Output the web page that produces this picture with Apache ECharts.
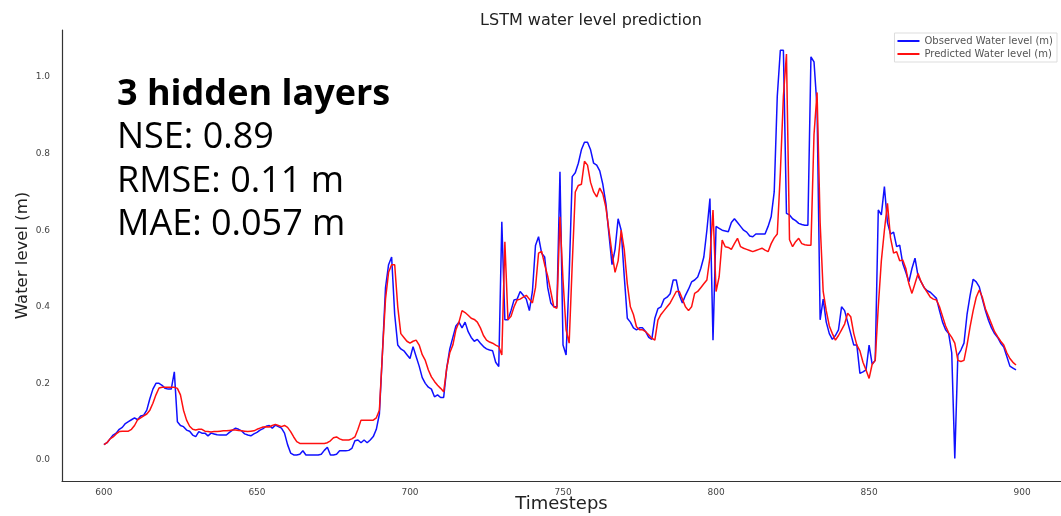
<!DOCTYPE html>
<html>
<head>
<meta charset="utf-8">
<script src="https://cdn.jsdelivr.net/npm/echarts@6/dist/echarts.min.js"></script>
<style>
html,body{margin:0;padding:0;background:#fff;}
#c{width:1061px;height:516px;}
</style>
</head>
<body>
<div id="c"></div>
<script>
const startStep = 600;
const observed = [
0.04,0.045,0.055,0.065,0.07,0.08,0.085,0.095,0.10,0.105,
0.11,0.105,0.115,0.117,0.13,0.16,0.185,0.20,0.20,0.195,
0.187,0.185,0.185,0.23,0.10,0.09,0.087,0.078,0.075,0.065,
0.061,0.074,0.07,0.07,0.063,0.07,0.068,0.066,0.065,0.065,
0.065,0.072,0.078,0.083,0.08,0.076,0.068,0.065,0.063,0.068,
0.072,0.078,0.082,0.088,0.09,0.083,0.091,0.087,0.083,0.07,
0.04,0.018,0.013,0.013,0.015,0.024,0.013,0.013,0.013,0.013,
0.013,0.015,0.025,0.033,0.013,0.013,0.015,0.024,0.024,0.024,
0.025,0.03,0.05,0.052,0.045,0.052,0.045,0.052,0.061,0.08,
0.12,0.28,0.45,0.51,0.53,0.38,0.30,0.29,0.285,0.275,
0.265,0.296,0.27,0.245,0.215,0.20,0.19,0.185,0.165,0.17,
0.163,0.163,0.24,0.29,0.32,0.35,0.36,0.345,0.36,0.335,
0.32,0.31,0.315,0.305,0.296,0.29,0.287,0.285,0.255,0.244,
0.622,0.366,0.366,0.39,0.418,0.42,0.44,0.43,0.42,0.39,
0.44,0.56,0.583,0.54,0.53,0.45,0.41,0.40,0.40,0.753,
0.30,0.274,0.48,0.74,0.75,0.775,0.81,0.83,0.83,0.81,
0.775,0.77,0.755,0.72,0.67,0.59,0.51,0.55,0.63,0.60,
0.48,0.37,0.36,0.345,0.34,0.345,0.345,0.335,0.32,0.315,
0.37,0.395,0.40,0.42,0.425,0.434,0.47,0.47,0.43,0.41,
0.43,0.446,0.465,0.47,0.478,0.50,0.53,0.60,0.683,0.313,
0.61,0.605,0.60,0.598,0.596,0.62,0.63,0.62,0.61,0.60,
0.595,0.585,0.583,0.59,0.59,0.59,0.59,0.61,0.635,0.70,
0.95,1.07,1.07,0.644,0.64,0.63,0.625,0.618,0.615,0.613,
0.613,1.053,1.04,0.92,0.366,0.42,0.36,0.33,0.315,0.325,
0.34,0.40,0.39,0.36,0.33,0.30,0.30,0.226,0.23,0.235,
0.30,0.25,0.26,0.653,0.64,0.714,0.62,0.59,0.595,0.557,
0.561,0.513,0.49,0.465,0.50,0.527,0.48,0.465,0.45,0.442,
0.438,0.43,0.422,0.39,0.36,0.34,0.33,0.28,0.004,0.274,
0.287,0.305,0.38,0.43,0.472,0.465,0.452,0.42,0.39,0.365,
0.345,0.33,0.32,0.305,0.295,0.27,0.245,0.24,0.235
];
const predicted = [
0.04,0.045,0.055,0.06,0.068,0.074,0.075,0.075,0.075,0.08,
0.09,0.105,0.11,0.115,0.12,0.13,0.148,0.17,0.188,0.19,
0.19,0.19,0.19,0.19,0.187,0.17,0.13,0.104,0.088,0.08,
0.078,0.08,0.08,0.075,0.074,0.073,0.074,0.074,0.075,0.076,
0.076,0.077,0.078,0.078,0.077,0.076,0.075,0.074,0.075,0.076,
0.08,0.083,0.086,0.087,0.086,0.09,0.093,0.09,0.087,0.09,
0.085,0.074,0.06,0.048,0.043,0.043,0.043,0.043,0.043,0.043,
0.043,0.043,0.043,0.045,0.05,0.058,0.06,0.055,0.052,0.052,
0.052,0.055,0.06,0.08,0.104,0.104,0.104,0.104,0.104,0.11,
0.13,0.28,0.42,0.49,0.51,0.51,0.40,0.33,0.32,0.31,
0.305,0.31,0.313,0.30,0.275,0.26,0.235,0.217,0.205,0.195,
0.187,0.178,0.24,0.28,0.30,0.34,0.36,0.39,0.385,0.378,
0.37,0.367,0.36,0.345,0.325,0.313,0.308,0.305,0.30,0.296,
0.274,0.57,0.366,0.375,0.40,0.418,0.42,0.425,0.43,0.42,
0.41,0.45,0.54,0.545,0.51,0.48,0.44,0.40,0.396,0.635,
0.47,0.34,0.305,0.51,0.70,0.717,0.72,0.78,0.77,0.725,
0.70,0.687,0.71,0.695,0.66,0.60,0.54,0.49,0.52,0.60,
0.55,0.46,0.40,0.38,0.348,0.34,0.34,0.335,0.327,0.318,
0.313,0.365,0.38,0.39,0.40,0.41,0.425,0.44,0.44,0.42,
0.40,0.39,0.40,0.435,0.44,0.45,0.46,0.47,0.53,0.653,
0.44,0.478,0.574,0.557,0.555,0.55,0.565,0.579,0.557,0.553,
0.55,0.547,0.544,0.547,0.55,0.553,0.548,0.544,0.565,0.58,
0.59,0.75,0.95,1.06,0.575,0.557,0.57,0.579,0.565,0.562,
0.561,0.561,0.85,0.96,0.62,0.44,0.39,0.35,0.33,0.313,
0.325,0.34,0.355,0.383,0.374,0.33,0.30,0.285,0.255,0.235,
0.213,0.25,0.26,0.40,0.52,0.60,0.67,0.58,0.54,0.544,
0.52,0.522,0.50,0.46,0.435,0.461,0.487,0.465,0.45,0.438,
0.425,0.42,0.418,0.40,0.375,0.35,0.332,0.32,0.305,0.26,
0.257,0.26,0.30,0.348,0.39,0.425,0.444,0.425,0.395,0.375,
0.355,0.335,0.322,0.31,0.30,0.28,0.265,0.255,0.248
];
const xTicks = [600, 650, 700, 750, 800, 850, 900];
const yTicks = [0.0, 0.2, 0.4, 0.6, 0.8, 1.0];
const seriesNames = ['Observed Water level (m)', 'Predicted Water level (m)'];
const titleText = 'LSTM water level prediction';
const xName = 'Timesteps';
const yName = 'Water level (m)';
const noteTitle = '3 hidden layers';
const noteLines = ['NSE: 0.89', 'RMSE: 0.11 m', 'MAE: 0.057 m'];

const obsData = observed.map((v, i) => [startStep + i, v]);
const predData = predicted.map((v, i) => [startStep + i, v]);

const chart = echarts.init(document.getElementById('c'), null, {renderer: 'canvas'});
const tickFont = {fontFamily: 'DejaVu Sans', fontSize: 9, color: '#444'};
const noteFont = 'Open Sans';
chart.setOption({
  animation: false,
  backgroundColor: '#fff',
  title: {
    text: titleText, left: 586, top: 8, textAlign: 'center',
    textStyle: {fontFamily: 'DejaVu Sans', fontSize: 16, fontWeight: 'normal', color: '#222'}
  },
  legend: {
    data: seriesNames, orient: 'vertical', right: 4, top: 33,
    icon: 'rect', itemWidth: 22, itemHeight: 2, itemGap: 3,
    borderColor: '#ddd', borderWidth: 1, padding: [3, 4, 3, 3], backgroundColor: '#fff',
    textStyle: {fontFamily: 'DejaVu Sans', fontSize: 10, color: '#555'}
  },
  grid: {left: 62, right: 0, top: 30, bottom: 35, containLabel: false, outerBoundsMode: 'none'},
  xAxis: {
    type: 'value', min: 586.3, max: 912.7,
    name: xName, nameLocation: 'middle', nameGap: 14, nameMoveOverlap: false,
    nameTextStyle: {fontFamily: 'DejaVu Sans', fontSize: 18, color: '#222'},
    axisLine: {show: true, onZero: false, lineStyle: {color: '#333', width: 1.2}},
    axisTick: {show: false},
    splitLine: {show: false},
    axisLabel: Object.assign({customValues: xTicks, margin: 7, formatter: v => String(v)}, tickFont)
  },
  yAxis: {
    type: 'value', min: -0.055, max: 1.123,
    name: yName, nameLocation: 'middle', nameGap: 31, nameRotate: 90, nameMoveOverlap: false,
    nameTextStyle: {fontFamily: 'DejaVu Sans', fontSize: 16.5, color: '#222'},
    axisLine: {show: true, onZero: false, lineStyle: {color: '#333', width: 1.2}},
    axisTick: {show: false},
    splitLine: {show: false},
    axisLabel: Object.assign({customValues: yTicks, margin: 12, formatter: v => v.toFixed(1)}, tickFont)
  },
  graphic: [
    {type: 'text', left: 117, top: 77, style: {text: noteTitle, fontFamily: noteFont, fontSize: 36, fontWeight: 'bold', fill: '#000'}},
    {type: 'text', left: 117, top: 120, style: {text: noteLines[0], fontFamily: noteFont, fontSize: 36, fill: '#000'}},
    {type: 'text', left: 117, top: 164, style: {text: noteLines[1], fontFamily: noteFont, fontSize: 36, fill: '#000'}},
    {type: 'text', left: 117, top: 207, style: {text: noteLines[2], fontFamily: noteFont, fontSize: 36, fill: '#000'}}
  ],
  series: [
    {name: seriesNames[0], type: 'line', data: obsData, showSymbol: false, lineStyle: {color: '#1010ff', width: 1.5}, itemStyle: {color: '#1010ff'}},
    {name: seriesNames[1], type: 'line', data: predData, showSymbol: false, lineStyle: {color: '#ff1010', width: 1.5}, itemStyle: {color: '#ff1010'}}
  ]
});
</script>
</body>
</html>
